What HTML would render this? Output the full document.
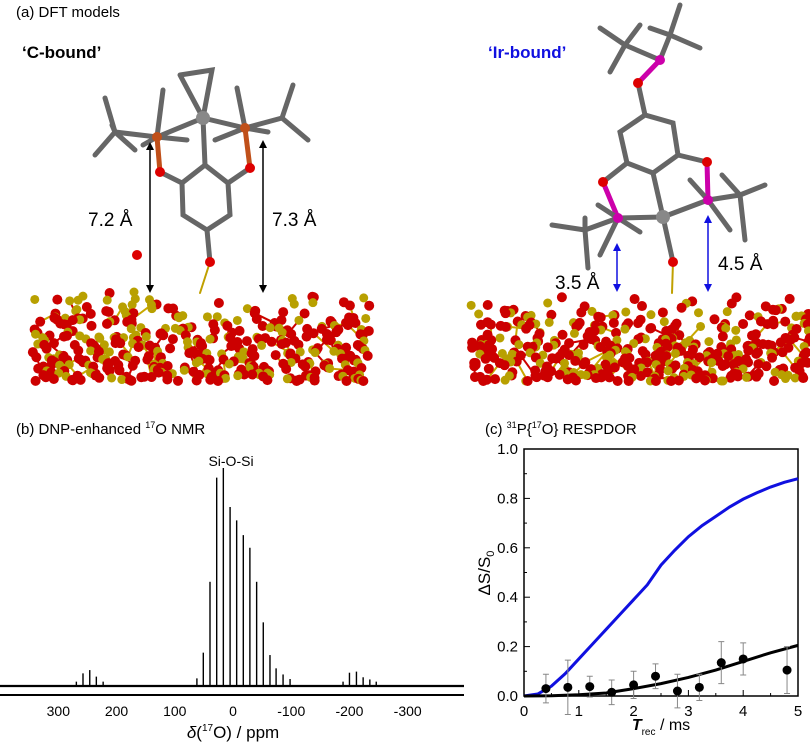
<!DOCTYPE html>
<html><head><meta charset="utf-8">
<style>
body{margin:0;background:#fff;}
svg{display:block;font-family:"Liberation Sans",Arial,sans-serif;}
</style></head>
<body>
<svg id="fig" width="810" height="744" viewBox="0 0 810 744" xmlns="http://www.w3.org/2000/svg">
<rect width="810" height="744" fill="#fff"/>
<text x="16" y="17" font-size="15">(a) DFT models</text>
<text x="22" y="58" font-size="17" font-weight="bold">‘C-bound’</text>
<text x="488" y="58" font-size="17" font-weight="bold" fill="#1010e0">‘Ir-bound’</text>
<g id="surfL"></g>
<g id="surfR"></g>
<g id="molL" stroke="#666" stroke-width="5" stroke-linecap="round" fill="none">
  <polyline points="180,75 212,70 203,118 180,75"/>
  <line x1="203" y1="118" x2="157" y2="137"/><line x1="203" y1="118" x2="245" y2="128"/>
  <line x1="203" y1="118" x2="205" y2="165"/>
  <polygon points="182,183 205,165 228,183 230,215 207,230 183,215"/>
  <line x1="157" y1="137" x2="115" y2="132"/><line x1="115" y1="132" x2="105" y2="98"/><line x1="115" y1="132" x2="95" y2="155"/><line x1="115" y1="132" x2="135" y2="150"/><line x1="115" y1="132" x2="112" y2="125"/>
  <line x1="157" y1="137" x2="163" y2="90"/><line x1="157" y1="137" x2="187" y2="140"/><line x1="157" y1="137" x2="143" y2="145"/>
  <line x1="245" y1="128" x2="237" y2="88"/><line x1="245" y1="128" x2="215" y2="140"/><line x1="245" y1="128" x2="282" y2="118"/><line x1="282" y1="118" x2="293" y2="85"/><line x1="282" y1="118" x2="308" y2="140"/><line x1="245" y1="128" x2="268" y2="132"/>
  <line x1="157" y1="137" x2="160" y2="172" stroke="#c0501a"/><line x1="160" y1="172" x2="182" y2="183"/>
  <line x1="245" y1="128" x2="250" y2="168" stroke="#c0501a"/><line x1="250" y1="168" x2="228" y2="183"/>
  <line x1="207" y1="230" x2="210" y2="262"/><line x1="210" y1="262" x2="200" y2="293" stroke="#c0a000" stroke-width="2"/>
  <circle cx="203" cy="118" r="7" fill="#888" stroke="none"/>
  <circle cx="157" cy="137" r="5" fill="#c0501a" stroke="none"/><circle cx="245" cy="128" r="5" fill="#c0501a" stroke="none"/>
  <circle cx="160" cy="172" r="5" fill="#d00" stroke="none"/><circle cx="250" cy="168" r="5" fill="#d00" stroke="none"/>
  <circle cx="210" cy="262" r="5" fill="#d00" stroke="none"/><circle cx="137" cy="255" r="5" fill="#d00" stroke="none"/>
</g>
<g id="molR" stroke="#666" stroke-width="5" stroke-linecap="round" fill="none">
  <polygon points="620,132 645,115 673,123 678,155 653,173 627,163"/>
  <line x1="645" y1="115" x2="638" y2="83"/><line x1="638" y1="83" x2="660" y2="60" stroke="#c0a"/>
  <line x1="660" y1="60" x2="625" y2="45"/><line x1="625" y1="45" x2="600" y2="28"/><line x1="625" y1="45" x2="610" y2="72"/><line x1="625" y1="45" x2="640" y2="25"/>
  <line x1="660" y1="60" x2="670" y2="35"/><line x1="670" y1="35" x2="680" y2="5"/><line x1="670" y1="35" x2="700" y2="48"/><line x1="670" y1="35" x2="650" y2="28"/>
  <line x1="627" y1="163" x2="603" y2="182"/><line x1="603" y1="182" x2="618" y2="218" stroke="#c0a"/>
  <line x1="678" y1="155" x2="707" y2="162"/><line x1="707" y1="162" x2="708" y2="200" stroke="#c0a"/>
  <line x1="653" y1="173" x2="663" y2="217"/><line x1="618" y1="218" x2="663" y2="217"/><line x1="708" y1="200" x2="663" y2="217"/>
  <line x1="618" y1="218" x2="585" y2="230"/><line x1="585" y1="230" x2="552" y2="225"/><line x1="585" y1="230" x2="588" y2="268"/><line x1="585" y1="230" x2="585" y2="218"/>
  <line x1="618" y1="218" x2="640" y2="232"/><line x1="618" y1="218" x2="598" y2="205"/><line x1="618" y1="218" x2="600" y2="255"/>
  <line x1="708" y1="200" x2="740" y2="195"/><line x1="740" y1="195" x2="765" y2="185"/><line x1="740" y1="195" x2="745" y2="240"/><line x1="740" y1="195" x2="722" y2="175"/>
  <line x1="708" y1="200" x2="730" y2="230"/><line x1="708" y1="200" x2="690" y2="180"/>
  <line x1="663" y1="217" x2="673" y2="262"/><line x1="673" y1="262" x2="672" y2="293" stroke="#c0a000" stroke-width="2"/>
  <circle cx="663" cy="217" r="7" fill="#888" stroke="none"/>
  <circle cx="618" cy="218" r="5" fill="#c0a" stroke="none"/><circle cx="708" cy="200" r="5" fill="#c0a" stroke="none"/><circle cx="660" cy="60" r="5" fill="#c0a" stroke="none"/>
  <circle cx="638" cy="83" r="5" fill="#d00" stroke="none"/><circle cx="603" cy="182" r="5" fill="#d00" stroke="none"/><circle cx="707" cy="162" r="5" fill="#d00" stroke="none"/><circle cx="673" cy="262" r="5" fill="#d00" stroke="none"/>
</g>
<g stroke-width="1.5">
  <line x1="150" y1="146" x2="150" y2="289" stroke="#000"/><path d="M146,150 L150,142 L154,150 Z M146,285 L150,293 L154,285 Z" fill="#000"/>
  <line x1="263" y1="144" x2="263" y2="289" stroke="#000"/><path d="M259,148 L263,140 L267,148 Z M259,285 L263,293 L267,285 Z" fill="#000"/>
  <line x1="617" y1="247" x2="617" y2="288" stroke="#1010e0"/><path d="M613,251 L617,243 L621,251 Z M613,284 L617,292 L621,284 Z" fill="#1010e0"/>
  <line x1="708" y1="219" x2="708" y2="288" stroke="#1010e0"/><path d="M704,223 L708,215 L712,223 Z M704,284 L708,292 L712,284 Z" fill="#1010e0"/>
</g>
<text x="88" y="226" font-size="19">7.2 Å</text>
<text x="272" y="226" font-size="19">7.3 Å</text>
<text x="555" y="289" font-size="19">3.5 Å</text>
<text x="718" y="270" font-size="19">4.5 Å</text>

<text x="16" y="434" font-size="15">(b) DNP-enhanced <tspan font-size="9" dy="-6">17</tspan><tspan dy="6">O NMR</tspan></text>
<text x="231" y="466" font-size="14" text-anchor="middle">Si-O-Si</text>
<g id="nmr"></g>
<text x="233" y="738" font-size="17" text-anchor="middle"><tspan font-style="italic">δ</tspan>(<tspan font-size="10" dy="-7">17</tspan><tspan dy="7">O) / ppm</tspan></text>

<text x="485" y="434" font-size="15">(c) <tspan font-size="9" dy="-6">31</tspan><tspan dy="6">P{</tspan><tspan font-size="9" dy="-6">17</tspan><tspan dy="6">O} RESPDOR</tspan></text>
<g id="resp"></g>
<text transform="translate(490,573) rotate(-90)" font-size="17" text-anchor="middle">ΔS/S<tspan font-size="11" dy="4">0</tspan></text>
<text x="661" y="730" font-size="16" text-anchor="middle"><tspan font-style="italic" font-weight="bold">T</tspan><tspan font-size="10" dy="5">rec</tspan><tspan dy="-5"> / ms</tspan></text>
</svg>
<script>
const NS="http://www.w3.org/2000/svg";
function mk(t,a,p){const e=document.createElementNS(NS,t);for(const k in a)e.setAttribute(k,a[k]);p.appendChild(e);return e;}
// decorative silica surfaces (texture only)
function surf(g,x0,x1,seed){
  let s=seed;function r(){s=(s*9301+49297)%233280;return s/233280;}
  const pts=[];
  for(let i=0;i<420;i++){const y=290+Math.pow(r(),0.55)*92;pts.push([x0+r()*(x1-x0),Math.min(y,381),r()<0.35?'#b8a000':'#cc0000']);}
  for(let i=0;i<1400;i++){const a=pts[Math.floor(r()*pts.length)],b=pts[Math.floor(r()*pts.length)];
    if(Math.abs(a[0]-b[0])<22&&Math.abs(a[1]-b[1])<22){mk('line',{x1:a[0],y1:a[1],x2:b[0],y2:b[1],stroke:i%2?'#c8a800':'#cc0000','stroke-width':2},g);}}
  pts.sort((a,b)=>a[1]-b[1]);
  pts.forEach(p=>{mk('circle',{cx:p[0],cy:p[1],r:p[2]=='#cc0000'?5:4.5,fill:p[2]},g);});
}
surf(document.getElementById('surfL'),32,370,17);
surf(document.getElementById('surfR'),469,810,91);

// ---- panel b data ----
const peakPpm=[62,51,39.5,28,16.6,5,-6.3,-17.7,-29,-40.6,-52,-63.5,-74,-86,-98,269,257.6,246,234.7,223,-189,-200,-212,-223.5,-235,-246];
const peakInt=[0.035,0.153,0.478,0.956,1.0,0.821,0.76,0.692,0.634,0.478,0.292,0.142,0.081,0.053,0.032,0.02,0.058,0.073,0.043,0.02,0.02,0.061,0.066,0.04,0.03,0.02];
const nmrTicks=[300,200,100,0,-100,-200,-300];
const nmrTickLabels=["300","200","100","0","-100","-200","-300"];
(function(){
  const g=document.getElementById('nmr');
  const X=p=>233-p*0.5823, base=686, H=218;
  const b=mk('path',{d:`M0,${base} L464,${base}`,stroke:'#000','stroke-width':2.2,fill:'none'},g);
  
  peakPpm.forEach((p,i)=>{
    const x=X(p);
    const pk=mk('path',{d:`M${x},${base} L${x},${base-peakInt[i]*H}`,stroke:'#000','stroke-width':1.4,fill:'none'},g);
    
    
  });
  const ax=mk('line',{x1:0,y1:695,x2:464,y2:695,stroke:'#000','stroke-width':2},g);
  
  nmrTicks.forEach((t,i)=>{
    const tl=mk('text',{x:X(t),y:716,'font-size':14,'text-anchor':'middle'},g);tl.textContent=nmrTickLabels[i];
    
    
  });
})();

// ---- panel c data ----
const expX=[0.4,0.8,1.2,1.6,2.0,2.4,2.8,3.2,3.6,4.0,4.8];
const expY=[0.03,0.035,0.038,0.015,0.045,0.08,0.02,0.035,0.135,0.15,0.105];
const expErr=[0.058,0.11,0.042,0.05,0.055,0.05,0.068,0.053,0.085,0.065,0.095];
const irX=[0,0.25,0.5,0.75,1,1.25,1.5,1.75,2,2.25,2.5,2.75,3,3.25,3.5,3.75,4,4.25,4.5,4.75,5];
const irY=[0,0.008,0.04,0.09,0.15,0.21,0.27,0.33,0.39,0.45,0.53,0.59,0.645,0.69,0.727,0.765,0.797,0.823,0.846,0.865,0.88];
const cX=[0,0.5,1,1.5,2,2.5,3,3.5,4,4.5,5];
const cY=[0,0.001,0.005,0.012,0.03,0.05,0.075,0.105,0.14,0.175,0.205];
const xTicks=[0,1,2,3,4,5];
const yTicks=[0,0.2,0.4,0.6,0.8,1.0];
const yTickLabels=["0.0","0.2","0.4","0.6","0.8","1.0"];
(function(){
  const g=document.getElementById('resp');
  const X=v=>524+v*(798-524)/5, Y=v=>696-v*(696-449);
  const fr=mk('rect',{x:524,y:449,width:274,height:247,fill:'none',stroke:'#000','stroke-width':1.5},g);
  
  xTicks.forEach(t=>{
    mk('line',{x1:X(t),y1:696,x2:X(t),y2:690,stroke:'#000'},g);
    if(t<5)mk('line',{x1:X(t+0.5),y1:696,x2:X(t+0.5),y2:693,stroke:'#000'},g);
    const tl=mk('text',{x:X(t),y:716,'font-size':15,'text-anchor':'middle'},g);tl.textContent=String(t);
    
    
  });
  yTicks.forEach((t,i)=>{
    mk('line',{x1:524,y1:Y(t),x2:530,y2:Y(t),stroke:'#000'},g);
    if(t<1)mk('line',{x1:524,y1:Y(t+0.1),x2:527,y2:Y(t+0.1),stroke:'#000'},g);
    const tl=mk('text',{x:518,y:Y(t)+5,'font-size':15,'text-anchor':'end'},g);tl.textContent=yTickLabels[i];
    
    
  });
  const bl=mk('polyline',{points:irX.map((x,i)=>X(x)+','+Y(irY[i])).join(' '),fill:'none',stroke:'#1010e0','stroke-width':3},g);
  
  const kl=mk('polyline',{points:cX.map((x,i)=>X(x)+','+Y(cY[i])).join(' '),fill:'none',stroke:'#000','stroke-width':3},g);
  
  expX.forEach((x,i)=>{
    const e=mk('path',{d:`M${X(x)},${Y(expY[i]-expErr[i])} V${Y(expY[i]+expErr[i])} M${X(x)-3},${Y(expY[i]+expErr[i])} h6 M${X(x)-3},${Y(expY[i]-expErr[i])} h6`,stroke:'#888','stroke-width':1,fill:'none'},g);
    
    const c=mk('circle',{cx:X(x),cy:Y(expY[i]),r:4.5,fill:'#000'},g);
    
    
  });
})();
</script>
</body></html>
